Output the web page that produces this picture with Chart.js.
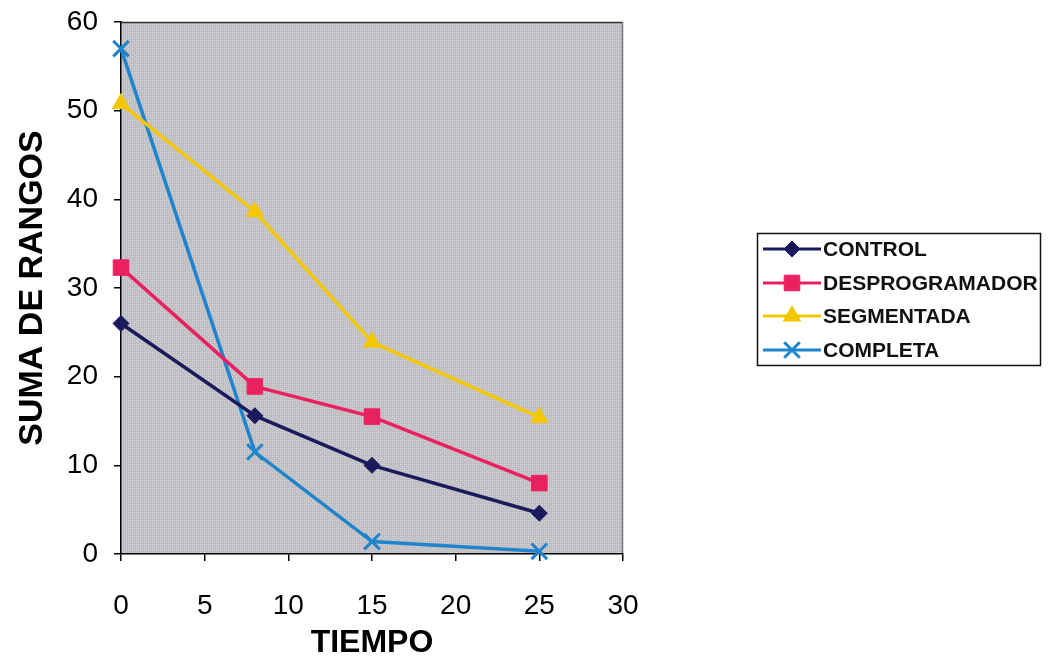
<!DOCTYPE html>
<html>
<head>
<meta charset="utf-8">
<script src="https://cdn.jsdelivr.net/npm/chart.js@4/dist/chart.umd.min.js"></script>
<style>
  html, body { margin: 0; padding: 0; background: #ffffff; }
  #wrap { width: 1050px; height: 664px; position: relative; }
</style>
</head>
<body>
<div id="wrap"><canvas id="c" width="1050" height="664"></canvas></div>
<script>
// ---- data ----
const tiempo = [0, 8, 15, 25];
const seriesNames = ["CONTROL", "DESPROGRAMADOR", "SEGMENTADA", "COMPLETA"];
const control = [26.0, 15.6, 10.0, 4.6];
const desprogramador = [32.3, 18.9, 15.5, 8.0];
const segmentada = [50.8, 38.6, 23.9, 15.4];
const completa = [57.0, 11.5, 1.4, 0.3];
const xTicks = [0, 5, 10, 15, 20, 25, 30];
const yTicks = [0, 10, 20, 30, 40, 50, 60];

const toPts = arr => tiempo.map((t, i) => ({ x: t, y: arr[i] }));
const FONT = '"Liberation Sans", Arial, sans-serif';

// textured gray plot background
function makePattern(ctx) {
  const p = document.createElement('canvas');
  p.width = 4; p.height = 4;
  const g = p.getContext('2d');
  g.fillStyle = '#bdbcc1';
  g.fillRect(0, 0, 4, 4);
  g.fillStyle = '#dddce0';
  g.fillRect(0, 0, 1, 1);
  g.fillRect(2, 2, 1, 1);
  g.fillStyle = '#cccbd0';
  g.fillRect(2, 0, 1, 1);
  g.fillRect(0, 2, 1, 1);
  return ctx.createPattern(p, 'repeat');
}

const bgPlugin = {
  id: 'bg',
  beforeDraw(chart) {
    const { ctx, chartArea: a } = chart;
    ctx.save();
    ctx.fillStyle = makePattern(ctx);
    ctx.fillRect(a.left, a.top, a.right - a.left, a.bottom - a.top);
    ctx.strokeStyle = '#333333';
    ctx.lineWidth = 1.5;
    ctx.beginPath();
    ctx.moveTo(a.left, a.top + 0.5);
    ctx.lineTo(a.right, a.top + 0.5);
    ctx.stroke();
    ctx.strokeStyle = '#777777';
    ctx.beginPath();
    ctx.moveTo(a.right - 0.5, a.top);
    ctx.lineTo(a.right - 0.5, a.bottom);
    ctx.stroke();
    ctx.restore();
  }
};

// legend: box with line+marker samples
const legendPlugin = {
  id: 'boxLegend',
  afterDraw(chart) {
    const ctx = chart.ctx;
    const x0 = 757, y0 = 233, w = 283, h = 132;
    ctx.save();
    ctx.fillStyle = '#ffffff';
    ctx.fillRect(x0, y0, w, h);
    ctx.strokeStyle = '#111111';
    ctx.lineWidth = 1.5;
    ctx.strokeRect(x0 + 0.5, y0 + 0.5, w, h);
    const rowY = [249, 283, 316, 350];
    chart.data.datasets.forEach((ds, i) => {
      const y = rowY[i];
      ctx.strokeStyle = ds.borderColor;
      ctx.lineWidth = 3;
      ctx.beginPath();
      ctx.moveTo(763, y);
      ctx.lineTo(821, y);
      ctx.stroke();
      ctx.fillStyle = ds.pointBackgroundColor;
      ctx.strokeStyle = ds.pointBorderColor;
      ctx.lineWidth = ds.pointBorderWidth || 1;
      Chart.helpers.drawPoint(ctx, {
        pointStyle: ds.pointStyle,
        radius: ds.pointRadius,
        rotation: ds.pointRotation || 0,
        borderWidth: ds.pointBorderWidth || 1
      }, 792, y);
      ctx.fillStyle = '#111111';
      ctx.font = 'bold 21px ' + FONT;
      ctx.textAlign = 'left';
      ctx.textBaseline = 'middle';
      ctx.fillText(ds.label, 823, y + 1);
    });
    ctx.restore();
  }
};

const styles = [
  { color: '#1b1a5c', style: 'rectRot', r: 8, rot: 0, bw: 1 },
  { color: '#ea2160', style: 'rect', r: 11, rot: 0, bw: 1 },
  { color: '#f4c800', style: 'triangle', r: 10, rot: 0, bw: 1 },
  { color: '#1f84cc', style: 'cross', r: 11, rot: 45, bw: 3 }
];
const values = [control, desprogramador, segmentada, completa];

const datasets = seriesNames.map((n, i) => ({
  label: n,
  data: toPts(values[i]),
  borderColor: styles[i].color,
  backgroundColor: styles[i].color,
  pointBackgroundColor: styles[i].color,
  pointBorderColor: styles[i].color,
  pointStyle: styles[i].style,
  pointRadius: styles[i].r,
  pointRotation: styles[i].rot,
  pointBorderWidth: styles[i].bw,
  borderWidth: 3.5,
  tension: 0,
  fill: false,
  clip: false
}));

new Chart(document.getElementById('c'), {
  type: 'line',
  data: { datasets },
  plugins: [bgPlugin, legendPlugin],
  options: {
    responsive: false,
    animation: false,
    devicePixelRatio: 1,
    layout: { padding: { left: 0, top: 22, right: 427, bottom: 0 } },
    plugins: { legend: { display: false }, tooltip: { enabled: false } },
    scales: {
      x: {
        type: 'linear',
        min: 0, max: 30,
        afterBuildTicks: s => { s.ticks = xTicks.map(v => ({ value: v })); },
        afterFit: s => { s.height = 664 - 554; },
        grid: { display: true, drawOnChartArea: false, drawTicks: true, tickLength: 7, color: '#000', lineWidth: 1.5 },
        border: { display: true, color: '#000', width: 1.5 },
        ticks: { color: '#000', padding: 28, maxRotation: 0,
          font: { family: FONT, size: 28, lineHeight: 1.2 } },
        title: { display: true, text: 'TIEMPO', color: '#000', padding: { top: 0, bottom: 2 },
          font: { family: FONT, size: 32, weight: 'bold', lineHeight: 1.2 } }
      },
      y: {
        type: 'linear',
        min: 0, max: 60,
        afterBuildTicks: s => { s.ticks = yTicks.map(v => ({ value: v })); },
        afterFit: s => { s.width = 121; s.paddingTop = 0; s.paddingBottom = 0; },
        grid: { display: true, drawOnChartArea: false, drawTicks: true, tickLength: 7, color: '#000', lineWidth: 1.5 },
        border: { display: true, color: '#000', width: 1.5 },
        ticks: { color: '#000', padding: 16,
          font: { family: FONT, size: 28, lineHeight: 1.2 } },
        title: { display: true, text: 'SUMA DE RANGOS', color: '#000', padding: { top: 12, bottom: 0 },
          font: { family: FONT, size: 34, weight: 'bold', lineHeight: 1.2 } }
      }
    }
  }
});
</script>
</body>
</html>
